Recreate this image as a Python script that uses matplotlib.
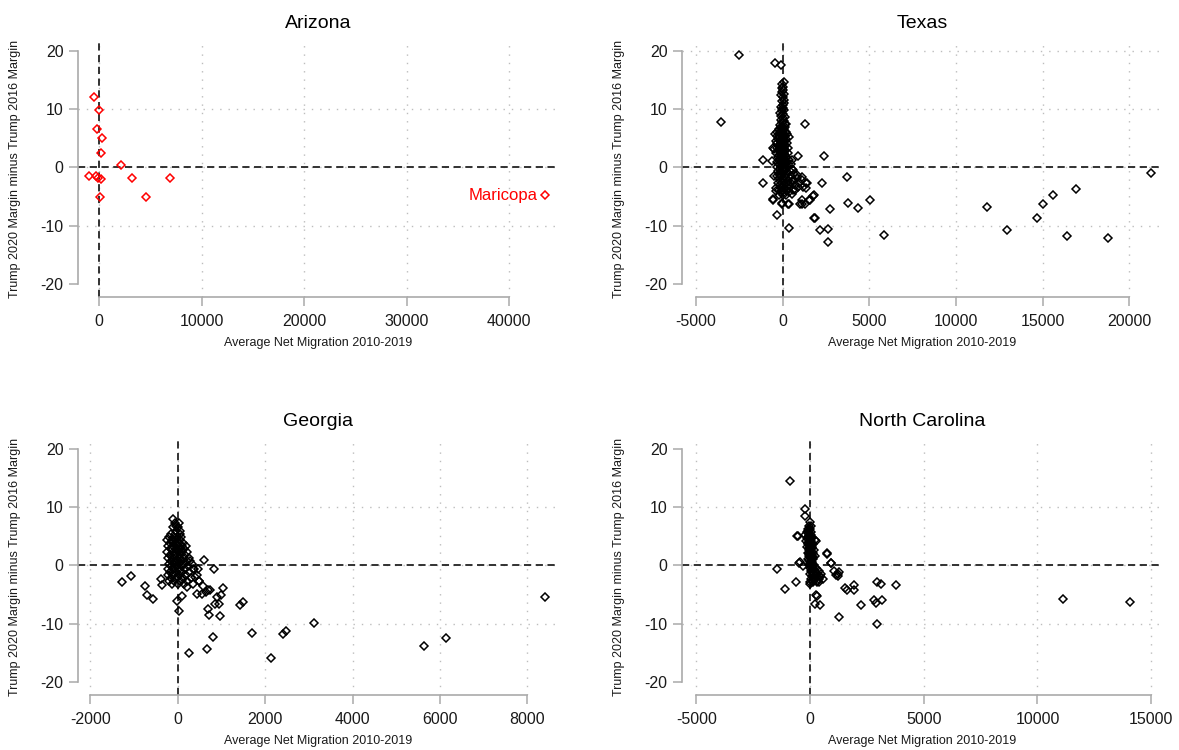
import numpy as np
import matplotlib
matplotlib.use("Agg")
import matplotlib.pyplot as plt

plt.rcParams['font.family'] = ['Liberation Sans', 'DejaVu Sans']
plt.rcParams['axes.unicode_minus'] = False

xlab = "Average Net Migration 2010-2019"
ylab = "Trump 2020 Margin minus Trump 2016 Margin"
yticks = [-20, -10, 0, 10, 20]

# (average net migration, margin change) per county
arizona = [(-459, 12.1), (0, 9.8), (-166, 6.5), (322, 5.1), (195, 2.4), (2146, 0.4),
           (-946, -1.5), (-293, -1.4), (-68, -1.9), (166, -2.0), (3249, -1.8),
           (98, -5.0), (4615, -5.0), (6927, -1.8), (43500, -4.75)]

texas = [
    # outliers
    (-3576, 7.8), (-2500, 19.3), (-444, 17.9), (-98, 17.5), (60, 14.6), (1286, 7.5),
    (-1119, 1.3), (-1119, -2.6), (-540, -5.6), (-346, -8.2), (346, -10.4), (-12, -6.1),
    (335, -6.3), (900, 1.9), (2393, 1.9), (2244, -2.6), (3737, -1.7), (3760, -6.1),
    (4342, -7.0), (5035, -5.6), (2739, -7.2), (2589, -10.6), (2589, -12.8), (2151, -10.8),
    (1805, -8.6), (1805, -4.75), (1528, -5.6), (1095, -6.3), (1095, -5.6), (1355, -3.6),
    (1355, -2.6), (1095, -2.2), (5865, -11.5), (11805, -6.8), (12953, -10.8), (14689, -8.6),
    (15012, -6.3), (15600, -4.75), (16897, -3.7), (16378, -11.7), (18760, -12.1),
    (21234, -0.9), (335, 5.2), (202, 7.4), (-577, 3.3), (519, 1.25), (611, -0.5),
    (807, -1.3), (1096, -1.7), (1384, -2.7), (1188, -3.4), (900, -3.3), (611, -2.2),
    (381, -3.0), (1765, -4.9), (1574, -5.6), (1286, -6.2), (998, -6.3), (-577, -5.5),
    (-58, -6.2), (323, -6.3), (1863, -8.7), (-400, -4.0), (520, -4.6), (700, -3.8),
    (-480, 3.1), (-600, 1.0), (-520, -1.5),
    # narrow upper column
    (-20, 14.3), (40, 13.8), (-60, 13.5), (20, 13.2), (-30, 12.9), (70, 12.6), (-80, 12.3),
    (0, 12.0), (50, 11.6), (-50, 11.3), (90, 11.0), (-10, 10.7), (-100, 10.4), (30, 10.2),
    (-60, 10.0), (80, 9.8), (-20, 9.6), (-130, 9.3), (40, 9.1), (-70, 8.8), (120, 8.6),
    (0, 8.4), (-110, 8.1), (60, 7.9), (-40, 7.7), (150, 7.5), (-180, 7.3),
    # dense core
    (-90, 6.9), (20, 6.9), (140, 6.9),
    (-220, 6.5), (-50, 6.5), (80, 6.5),
    (-300, 6.1), (-130, 6.1), (10, 6.1), (170, 6.1),
    (-420, 5.7), (-70, 5.7), (90, 5.7), (260, 5.7),
    (-350, 5.3), (-190, 5.3), (-10, 5.3), (130, 5.3),
    (-260, 4.9), (-100, 4.9), (50, 4.9), (210, 4.9),
    (-410, 4.5), (-160, 4.5), (-30, 4.5), (120, 4.5),
    (-310, 4.1), (-70, 4.1), (60, 4.1), (230, 4.1),
    (-230, 3.7), (-110, 3.7), (20, 3.7), (150, 3.7),
    (-330, 3.3), (-40, 3.3), (90, 3.3), (280, 3.3),
    (-260, 2.9), (-130, 2.9), (0, 2.9), (140, 2.9),
    (-360, 2.5), (-70, 2.5), (70, 2.5), (300, 2.5),
    (-210, 2.1), (-20, 2.1), (120, 2.1),
    (-290, 1.7), (-110, 1.7), (40, 1.7), (210, 1.7),
    (-160, 1.3), (-10, 1.3), (150, 1.3), (380, 1.3),
    (-330, 0.9), (-70, 0.9), (80, 0.9), (270, 0.9),
    (-210, 0.5), (10, 0.5), (170, 0.5), (480, 0.5),
    (-310, 0.1), (-100, 0.1), (50, 0.1), (330, 0.1),
    (-160, -0.3), (-10, -0.3), (140, -0.3), (560, -0.3),
    (-260, -0.7), (-70, -0.7), (90, -0.7), (420, -0.7),
    (-190, -1.1), (10, -1.1), (230, -1.1), (680, -1.1),
    (-310, -1.5), (-90, -1.5), (110, -1.5), (480, -1.5),
    (-210, -1.9), (-10, -1.9), (190, -1.9), (820, -1.9),
    (-130, -2.3), (70, -2.3), (330, -2.3), (620, -2.3),
    (-260, -2.7), (-40, -2.7), (170, -2.7), (480, -2.7), (920, -2.7),
    (-160, -3.1), (50, -3.1), (290, -3.1), (720, -3.1),
    (-360, -3.5), (-60, -3.5), (140, -3.5), (390, -3.5),
    (-210, -3.9), (40, -3.9), (240, -3.9), (580, -3.9),
    (-110, -4.3), (90, -4.3), (340, -4.3),
    (-230, -4.8), (0, -4.8), (190, -4.8),
    (-150, 5.9), (0, 5.5), (-80, 4.7), (-200, 3.9), (-20, 3.1), (60, 2.3),
    (-150, 1.5), (100, 1.1), (-120, 0.3), (20, -0.5), (-150, -1.3), (40, -2.1),
    (-80, -3.3), (-60, -4.1),
]

georgia = [
    # outliers
    (-1265, -2.9), (-1066, -1.75), (-739, -3.5), (-707, -5.0), (-570, -5.7), (-380, -2.4),
    (-350, -3.4), (-21, -6.1), (25, -7.9), (261, -15.0), (666, -14.3), (795, -12.2),
    (611, 0.95), (840, -0.7), (1045, -3.9), (993, -5.0), (894, -5.5), (855, -6.6),
    (947, -6.6), (688, -7.5), (725, -8.5), (970, -8.7), (1427, -6.8), (1489, -6.2),
    (1695, -11.6), (2129, -15.9), (2404, -11.8), (2480, -11.3), (741, -4.3), (650, -4.6),
    (551, -4.9), (437, -4.9), (3118, -9.9), (5629, -13.8), (6128, -12.4), (8406, -5.5),
    (94, -5.3), (-98, 8.0), (-37, 6.8), (588, -3.6), (703, -4.3), (497, -2.6),
    (398, -2.0), (360, -0.6), (474, -0.6), (284, 0.8), (208, -3.7),
    # dense core
    (-60, 7.2), (20, 7.2),
    (-100, 6.5), (10, 6.5),
    (-30, 5.9), (60, 5.9),
    (-150, 5.4), (-60, 5.4), (40, 5.4),
    (-200, 4.8), (-90, 4.8), (0, 4.8), (80, 4.8),
    (-250, 4.3), (-130, 4.3), (-30, 4.3), (50, 4.3),
    (-180, 3.8), (-70, 3.8), (30, 3.8), (120, 3.8),
    (-220, 3.3), (-110, 3.3), (-10, 3.3), (90, 3.3), (180, 3.3),
    (-160, 2.8), (-50, 2.8), (60, 2.8), (150, 2.8),
    (-250, 2.3), (-120, 2.3), (0, 2.3), (100, 2.3), (220, 2.3),
    (-180, 1.8), (-60, 1.8), (50, 1.8), (160, 1.8),
    (-220, 1.3), (-100, 1.3), (20, 1.3), (130, 1.3), (260, 1.3),
    (-150, 0.8), (-40, 0.8), (80, 0.8), (200, 0.8),
    (-200, 0.3), (-90, 0.3), (30, 0.3), (150, 0.3), (330, 0.3),
    (-160, -0.2), (-30, -0.2), (90, -0.2), (240, -0.2),
    (-220, -0.7), (-100, -0.7), (20, -0.7), (160, -0.7), (380, -0.7),
    (-170, -1.2), (-50, -1.2), (90, -1.2), (260, -1.2),
    (-230, -1.7), (-110, -1.7), (30, -1.7), (180, -1.7), (430, -1.7),
    (-160, -2.2), (-40, -2.2), (120, -2.2), (300, -2.2),
    (-200, -2.7), (-80, -2.7), (60, -2.7), (220, -2.7), (480, -2.7),
    (-130, -3.2), (0, -3.2), (150, -3.2), (350, -3.2),
    (-100, 4.0), (-20, 3.6), (-150, 3.0), (10, 2.5), (-60, 2.0), (-140, 1.5),
    (60, 1.0), (-80, 0.5), (-60, -0.5), (40, -1.0), (-100, -1.5), (-20, -2.0), (100, -2.5),
]

north_carolina = [
    # outliers
    (-884, 14.4), (-224, 9.7), (-207, 8.5), (-1446, -0.6), (-1082, -4.0), (-620, -2.9),
    (-585, 5.0), (-470, 0.36), (769, 2.0), (936, 0.36), (242, 4.1), (273, -5.1),
    (207, -6.6), (440, -6.8), (1280, -8.8), (2225, -6.8), (2933, -10.0), (2800, -5.9),
    (2884, -6.4), (3166, -5.9), (2933, -2.9), (3100, -3.2), (3760, -3.3), (1943, -3.3),
    (1943, -4.2), (1530, -3.9), (1614, -4.3), (1033, -0.9), (1148, -1.6), (1266, -1.2),
    (1231, -1.75), (11114, -5.75), (14091, -6.2), (-519, 5.1), (215, 4.3), (757, 2.1),
    (919, 0.4), (1240, -1.4), (435, -2.0), (405, -2.9), (-4, -3.2), (290, -5.2),
    (-300, -0.2), (-444, 0.5),
    # dense core
    (0, 7.4),
    (-40, 6.8), (30, 6.8),
    (-80, 6.2), (10, 6.2),
    (-150, 5.7), (-30, 5.7), (50, 5.7),
    (-200, 5.2), (-60, 5.2), (40, 5.2),
    (-120, 4.6), (-10, 4.6), (80, 4.6),
    (-160, 4.1), (-40, 4.1), (60, 4.1),
    (-90, 3.6), (20, 3.6), (120, 3.6),
    (-130, 3.1), (-20, 3.1), (90, 3.1),
    (-60, 2.6), (50, 2.6), (160, 2.6),
    (-100, 2.1), (10, 2.1), (120, 2.1),
    (-40, 1.6), (80, 1.6), (200, 1.6),
    (-80, 1.1), (30, 1.1), (150, 1.1),
    (-20, 0.6), (100, 0.6),
    (-60, 0.1), (60, 0.1), (180, 0.1),
    (0, -0.4), (120, -0.4), (280, -0.4),
    (60, -0.9), (200, -0.9), (380, -0.9),
    (20, -1.4), (150, -1.4), (320, -1.4), (500, -1.4),
    (100, -1.9), (250, -1.9), (450, -1.9),
    (40, -2.4), (200, -2.4), (380, -2.4), (560, -2.4),
    (0, -2.9), (150, -2.9), (320, -2.9),
    (-110, 4.9), (20, 4.9), (-70, 3.9), (50, 3.9), (-30, 2.9), (70, 2.9),
    (-50, 1.9), (60, 1.9), (0, 1.4), (110, 1.4), (-30, 0.9), (60, 0.4),
    (150, -0.1), (90, -1.1), (250, -1.6), (170, -2.1), (300, -2.6), (80, -2.6),
    (-100, 5.9), (-10, 3.3), (20, 0.3), (-20, 2.3), (100, -0.6),
]

# name, data, colour, x ticks, x limits, axes rect in pixels (left, top, right, bottom)
panels = [
    ("Arizona", arizona, "red", [0, 10000, 20000, 30000, 40000], (-2049, 44780), (78, 40, 558, 297)),
    ("Texas", texas, "black", [-5000, 0, 5000, 10000, 15000, 20000], (-5807, 21932), (682, 40, 1163, 297)),
    ("Georgia", georgia, "black", [-2000, 0, 2000, 4000, 6000, 8000], (-2283, 8701), (78, 438, 558, 695)),
    ("North Carolina", north_carolina, "black", [-5000, 0, 5000, 10000, 15000], (-5628, 15520), (682, 438, 1163, 695)),
]

W, H = 1179, 750
fig = plt.figure(figsize=(W / 100, H / 100), dpi=100)

for name, pts, col, xticks, xlim, (l, t, r, b) in panels:
    ax = fig.add_axes([l / W, 1 - b / H, (r - l) / W, (b - t) / H])
    ax.set_xlim(*xlim)
    ax.set_ylim(-22.2, 21.8)

    # dotted grid
    for xv in xticks:
        ax.axvline(xv, color="#bdbdbd", lw=1.0, ls=(0, (1, 5)), zorder=1)
    hgrid = [-10, 0, 10, 20] if name == "Texas" else [-10, 0, 10]
    for yv in hgrid:
        ax.axhline(yv, color="#bdbdbd", lw=1.0, ls=(0, (1, 5)), zorder=1)

    ax.axhline(0, color="#222222", lw=1.3, ls=(0, (4, 2.5)), zorder=2)
    ax.axvline(0, color="#222222", lw=1.3, ls=(0, (4, 2.5)), zorder=2)

    arr = np.array(pts)
    ax.plot(arr[:, 0], arr[:, 1], ls="none", marker="D", ms=4.0, mew=1.1,
            mfc="none", mec=col, zorder=3)

    if name == "Arizona":
        ax.annotate("Maricopa", xy=(arr[-1, 0], arr[-1, 1]), xytext=(-5, 0),
                    textcoords="offset points", ha="right", va="center",
                    color="red", fontsize=12)

    ax.set_xticks(xticks)
    ax.set_xticklabels([str(v) for v in xticks])
    ax.set_yticks(yticks)
    ax.set_yticklabels([str(v) for v in yticks])

    for s in ("top", "right"):
        ax.spines[s].set_visible(False)
    for s in ("left", "bottom"):
        ax.spines[s].set_color("#aaaaaa")
        ax.spines[s].set_linewidth(1.2)
    ax.spines["left"].set_bounds(-20, 20)
    ax.spines["bottom"].set_bounds(xticks[0], xticks[-1])

    ax.tick_params(direction="out", length=6.5, width=1.1, color="#aaaaaa",
                   labelsize=11.5, labelcolor="#1a1a1a")
    ax.tick_params(axis="x", pad=6)
    ax.tick_params(axis="y", pad=4)

    ax.set_title(name, fontsize=14, pad=9)
    ax.set_xlabel(xlab, fontsize=9, color="#1a1a1a")
    ax.xaxis.set_label_coords(0.5, -0.18)
    ax.xaxis.label.set_va("center")
    ax.set_ylabel(ylab, fontsize=9, color="#1a1a1a")
    ax.yaxis.set_label_coords(-0.131, 0.5)
    ax.yaxis.label.set_va("center")

fig.savefig("out.png", dpi=100, facecolor="white")
